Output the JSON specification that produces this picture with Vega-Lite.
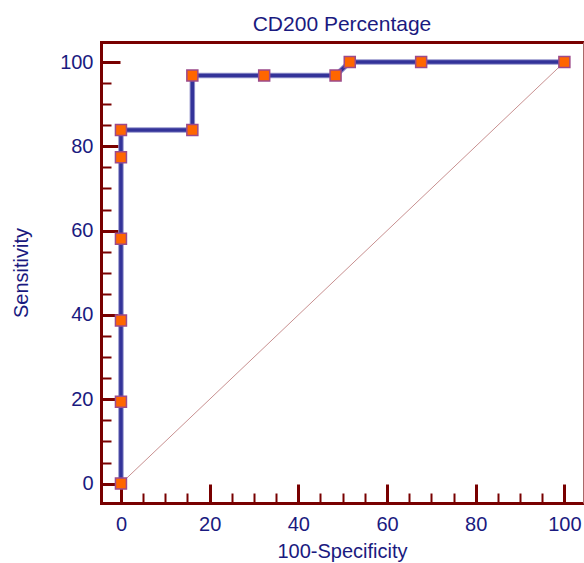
{
  "$schema": "https://vega.github.io/schema/vega-lite/v6.json",
  "width": 482,
  "height": 461,
  "autosize": "none",
  "padding": {"left": 101, "top": 42, "right": 1, "bottom": 60},
  "background": "white",
  "config": {"view": {"stroke": null}, "font": "Liberation Sans"},
  "title": {"text": "CD200 Percentage", "fontSize": 21, "font": "Liberation Sans", "fontWeight": "normal", "color": "#1a1a80", "anchor": "middle", "frame": "group", "baseline": "alphabetic", "offset": -10},
  "datasets": {
    "roc": [
      {"fpr": 0, "sens": 0, "o": 1},
      {"fpr": 0, "sens": 19.4, "o": 2},
      {"fpr": 0, "sens": 38.7, "o": 3},
      {"fpr": 0, "sens": 58.1, "o": 4},
      {"fpr": 0, "sens": 77.4, "o": 5},
      {"fpr": 0, "sens": 83.9, "o": 6},
      {"fpr": 16.1, "sens": 83.9, "o": 7},
      {"fpr": 16.1, "sens": 96.8, "o": 8},
      {"fpr": 32.3, "sens": 96.8, "o": 9},
      {"fpr": 48.4, "sens": 96.8, "o": 10},
      {"fpr": 51.6, "sens": 100, "o": 11},
      {"fpr": 67.7, "sens": 100, "o": 12},
      {"fpr": 100, "sens": 100, "o": 13}
    ],
    "diag": [{"fpr": 0, "sens": 0, "o": 1}, {"fpr": 100, "sens": 100, "o": 2}]
  },
  "resolve": {"axis": {"x": "independent", "y": "independent"}},
  "layer": [
    {
      "data": {"name": "diag"},
      "mark": {"type": "line", "color": "#c89090", "strokeWidth": 1},
      "encoding": {
        "x": {"field": "fpr", "type": "quantitative", "scale": {"domain": [-4.5, 104.2], "nice": false, "zero": false},
          "axis": {"orient": "bottom", "values": [0, 20, 40, 60, 80, 100], "format": "d", "ticks": false, "grid": false, "domain": true, "domainColor": "#780000", "domainWidth": 3, "domainCap": "square", "labelFont": "Liberation Sans", "labelFontSize": 20, "labelColor": "#1a1a80", "labelPadding": 11, "labelFlush": false, "title": "100-Specificity", "titleFont": "Liberation Sans", "titleFontSize": 20, "titleFontWeight": "normal", "titleColor": "#1a1a80", "titlePadding": 7}},
        "y": {"field": "sens", "type": "quantitative", "scale": {"domain": [-4.6, 104.75], "nice": false, "zero": false},
          "axis": {"orient": "left", "values": [0, 20, 40, 60, 80, 100], "format": "d", "ticks": false, "grid": false, "domain": true, "domainColor": "#780000", "domainWidth": 3, "domainCap": "square", "labelFont": "Liberation Sans", "labelFontSize": 20, "labelColor": "#1a1a80", "labelPadding": 8, "labelFlush": false, "title": "Sensitivity", "titleFont": "Liberation Sans", "titleFontSize": 20, "titleFontWeight": "normal", "titleColor": "#1a1a80", "titlePadding": 28}},
        "order": {"field": "o"}
      }
    },
    {
      "data": {"name": "roc"},
      "mark": {"type": "line", "color": "#9494cc", "strokeWidth": 5.5},
      "encoding": {
        "x": {"field": "fpr", "type": "quantitative",
          "axis": {"orient": "bottom", "values": [0, 20, 40, 60, 80, 100], "labels": false, "domain": false, "grid": false, "ticks": true, "tickSize": -19, "tickWidth": 3, "tickColor": "#780000", "title": null}},
        "y": {"field": "sens", "type": "quantitative",
          "axis": {"orient": "left", "values": [0, 20, 40, 60, 80, 100], "labels": false, "domain": false, "grid": false, "ticks": true, "tickSize": -19, "tickWidth": 3, "tickColor": "#780000", "title": null}},
        "order": {"field": "o"}
      }
    },
    {
      "data": {"name": "roc"},
      "mark": {"type": "line", "color": "#333399", "strokeWidth": 3.5},
      "encoding": {
        "x": {"field": "fpr", "type": "quantitative",
          "axis": {"orient": "bottom", "values": [5, 10, 15, 25, 30, 35, 45, 50, 55, 65, 70, 75, 85, 90, 95], "labels": false, "domain": false, "grid": false, "ticks": true, "tickSize": -10, "tickWidth": 2, "tickColor": "#780000", "title": null}},
        "y": {"field": "sens", "type": "quantitative",
          "axis": {"orient": "left", "values": [5, 10, 15, 25, 30, 35, 45, 50, 55, 65, 70, 75, 85, 90, 95], "labels": false, "domain": false, "grid": false, "ticks": true, "tickSize": -10, "tickWidth": 2, "tickColor": "#780000", "title": null}},
        "order": {"field": "o"}
      }
    },
    {
      "data": {"name": "roc"},
      "mark": {"type": "square", "filled": true, "fill": "#ff6600", "stroke": "#9c4a8a", "strokeWidth": 1.5, "size": 121, "opacity": 1},
      "encoding": {
        "x": {"field": "fpr", "type": "quantitative",
          "axis": {"orient": "top", "labels": false, "ticks": false, "grid": false, "domain": true, "domainColor": "#780000", "domainWidth": 3, "domainCap": "square", "title": null}},
        "y": {"field": "sens", "type": "quantitative",
          "axis": {"orient": "right", "labels": false, "ticks": false, "grid": false, "domain": true, "domainColor": "#a86a6a", "domainWidth": 1, "title": null}}
      }
    }
  ]
}
